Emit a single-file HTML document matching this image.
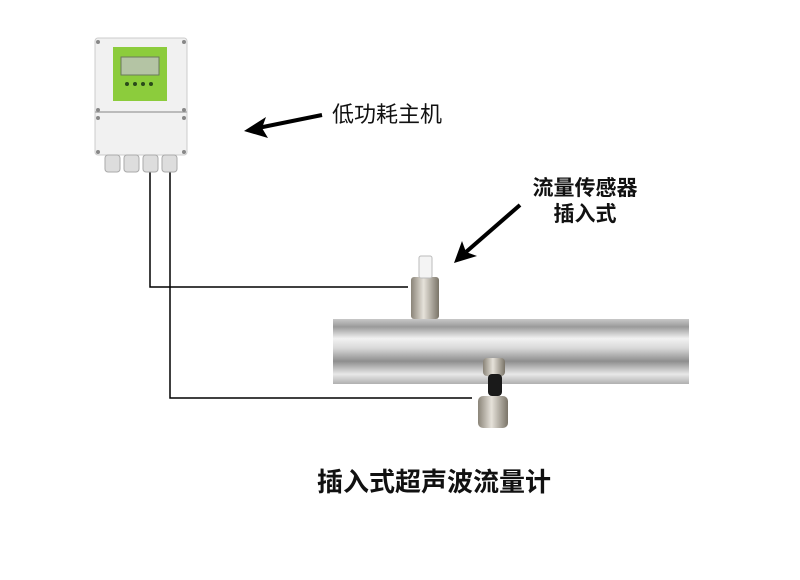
<!DOCTYPE html>
<html><head><meta charset="utf-8"><style>
body{margin:0;background:#fff;width:800px;height:575px;overflow:hidden;font-family:"Liberation Sans","Noto Sans CJK SC",sans-serif}
</style></head><body>
<svg width="800" height="575" xmlns="http://www.w3.org/2000/svg">
<defs>
<linearGradient id="pipe" x1="0" y1="0" x2="0" y2="1">
<stop offset="0" stop-color="#c8c8c8"/><stop offset="0.12" stop-color="#9a9a9a"/>
<stop offset="0.3" stop-color="#f2f2f2"/><stop offset="0.45" stop-color="#d8d8d8"/>
<stop offset="0.65" stop-color="#8e8e8e"/><stop offset="0.85" stop-color="#e8e8e8"/>
<stop offset="1" stop-color="#b0b0b0"/></linearGradient>
<linearGradient id="metal" x1="0" y1="0" x2="1" y2="0">
<stop offset="0" stop-color="#8a8478"/><stop offset="0.45" stop-color="#e6e2da"/><stop offset="1" stop-color="#7a7468"/></linearGradient>
</defs>
<polyline points="150,172 150,287 408,287" fill="none" stroke="#000" stroke-width="1.5"/>
<polyline points="170,172 170,398 472,398" fill="none" stroke="#000" stroke-width="1.5"/>
<rect x="95" y="38" width="92" height="117" rx="3" fill="#f1f1f1" stroke="#ccc"/>
<line x1="95" y1="112" x2="187" y2="112" stroke="#bbb" stroke-width="2"/>
<rect x="113" y="47" width="54" height="54" fill="#8ccc3c"/>
<rect x="121" y="57" width="38" height="18" fill="#b4c4a4" stroke="#6a7a5a"/>
<g fill="#2a4a1a"><circle cx="127" cy="84" r="2"/><circle cx="135" cy="84" r="2"/><circle cx="143" cy="84" r="2"/><circle cx="151" cy="84" r="2"/></g>
<g fill="#888"><circle cx="98" cy="42" r="2"/><circle cx="184" cy="42" r="2"/><circle cx="98" cy="110" r="2"/><circle cx="184" cy="110" r="2"/><circle cx="98" cy="118" r="2"/><circle cx="184" cy="118" r="2"/><circle cx="98" cy="152" r="2"/><circle cx="184" cy="152" r="2"/></g>
<g fill="#ddd" stroke="#aaa"><rect x="105" y="155" width="15" height="17" rx="3"/><rect x="124" y="155" width="15" height="17" rx="3"/><rect x="143" y="155" width="15" height="17" rx="3"/><rect x="162" y="155" width="15" height="17" rx="3"/></g>
<rect x="411" y="277" width="28" height="42" fill="url(#metal)" rx="3"/>
<rect x="419" y="256" width="13" height="22" fill="#f4f4f4" stroke="#bbb" rx="2"/>
<rect x="333" y="319" width="356" height="65" fill="url(#pipe)"/>
<rect x="483" y="358" width="22" height="18" fill="url(#metal)" rx="4"/>
<rect x="488" y="374" width="14" height="22" fill="#1a1a1a" rx="4"/>
<rect x="478" y="396" width="30" height="32" fill="url(#metal)" rx="5"/>
<line x1="322" y1="115" x2="258" y2="128" stroke="#000" stroke-width="4"/>
<polygon points="244,131 266,117 262,128 268,138" fill="#000"/>
<line x1="520" y1="205" x2="466" y2="252" stroke="#000" stroke-width="4"/>
<polygon points="454,263 462,241 466,252 477,256" fill="#000"/>
<text x="332" y="122" font-size="22" fill="#111">低功耗主机</text>
<text x="585" y="195" font-size="21" font-weight="bold" text-anchor="middle" fill="#111">流量传感器</text>
<text x="585" y="221" font-size="21" font-weight="bold" text-anchor="middle" fill="#111">插入式</text>
<text x="434" y="491" font-size="26" font-weight="bold" text-anchor="middle" fill="#111">插入式超声波流量计</text>
</svg>
</body></html>
